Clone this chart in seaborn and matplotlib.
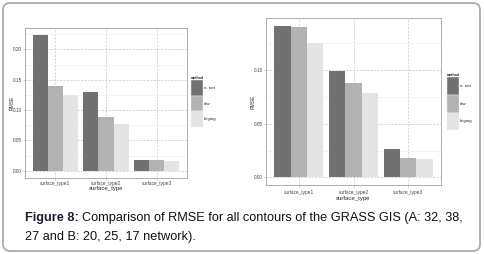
import seaborn as sns
import matplotlib.pyplot as plt
import pandas as pd
from matplotlib.patches import Patch, FancyBboxPatch
from matplotlib.transforms import IdentityTransform

# categories and methods
categories = ["surface_type1", "surface_type2", "surface_type3"]
methods = ["n. net", "idw", "kriging"]
colors = ["#717171", "#b2b2b2", "#e4e4e4"]

# panel A (network 32, 38, 27)
nnet_a = [0.224, 0.129, 0.017]
idw_a = [0.140, 0.089, 0.018]
kriging_a = [0.125, 0.077, 0.016]

# panel B (network 20, 25, 17)
nnet_b = [0.141, 0.099, 0.026]
idw_b = [0.1395, 0.088, 0.018]
kriging_b = [0.125, 0.078, 0.017]

yticks_a = [0.00, 0.05, 0.10, 0.15, 0.20]
yticks_b = [0.00, 0.05, 0.10]

W, H = 484, 254


def make_df(nnet, idw, kriging):
    rows = []
    for m, vals in zip(methods, [nnet, idw, kriging]):
        for c, v in zip(categories, vals):
            rows.append({"surface_type": c, "method": m, "RMSE": v})
    return pd.DataFrame(rows)


def px_rect(left, top, right, bottom):
    return [left / W, 1 - bottom / H, (right - left) / W, (bottom - top) / H]


sns.set_theme(style="white")
plt.rcParams["font.family"] = ["Liberation Sans Narrow", "Liberation Sans", "DejaVu Sans"]

fig = plt.figure(figsize=(W / 100, H / 100), dpi=100)


def draw_panel(rect, df, yticks, ylim, xtick_pad, leg_xy, key_h, xlab_y):
    ax = fig.add_axes(rect)
    sns.barplot(data=df, x="surface_type", y="RMSE", hue="method",
                order=categories, hue_order=methods, palette=colors,
                width=0.9, saturation=1, errorbar=None, legend=False,
                linewidth=0, ax=ax)
    ax.set_xlim(-0.6, 2.6)
    ax.set_ylim(*ylim)
    ax.set_yticks(yticks)
    ax.set_yticklabels(["{:.2f}".format(t) for t in yticks])
    minor = [t + 0.025 for t in yticks if t + 0.025 < ylim[1]]
    ax.set_yticks(minor, minor=True)

    # grid
    ax.set_axisbelow(True)
    ax.grid(which="minor", axis="y", color="#eeeeee", lw=0.5)
    ax.grid(which="major", axis="both", color="#c4c4c4", lw=0.5, ls=(0, (3, 2)))

    for s in ax.spines.values():
        s.set_color("#a0a0a0")
        s.set_linewidth(0.6)

    ax.tick_params(axis="both", which="major", labelsize=3.4, colors="#a0a0a0",
                   labelcolor="#444444", length=1.5, width=0.4, pad=0.6,
                   bottom=True, left=True)
    ax.tick_params(axis="x", pad=xtick_pad)
    ax.tick_params(which="minor", length=0)

    ax.set_ylabel("RMSE", fontsize=3.6, color="#333333")
    ax.yaxis.set_label_coords(-0.062, 0.5)
    ax.set_xlabel("surface_type", fontsize=4.3, color="#222222")
    ax.xaxis.set_label_coords(0.5, xlab_y)

    # legend (keys stacked without gaps)
    handles = [Patch(facecolor=c, edgecolor="#f4f4f4", lw=0.3) for c in colors]
    leg = ax.legend(handles, methods, title="method", loc="upper left",
                    bbox_to_anchor=(leg_xy[0] / W, 1 - leg_xy[1] / H),
                    bbox_transform=fig.transFigure, frameon=False,
                    fontsize=3.2, title_fontsize=2.6, handlelength=2.7,
                    handleheight=key_h, labelspacing=0, handletextpad=0.25,
                    borderpad=0, borderaxespad=0)
    leg._legend_box.align = "left"
    leg.get_title().set_fontweight("bold")
    return ax


ax1 = draw_panel(px_rect(25, 28, 187, 177.5), make_df(nnet_a, idw_a, kriging_a),
                 yticks_a, (-0.0112, 0.2352), 1.0, (191, 76), 5.05, -0.055)
ax2 = draw_panel(px_rect(266, 18, 441, 185), make_df(nnet_b, idw_b, kriging_b),
                 yticks_b, (-0.007, 0.148), 2.2, (447, 73), 5.78, -0.066)

# outer rounded frame
frame = FancyBboxPatch((3, 3), 477, 248, boxstyle="round,pad=0,rounding_size=7",
                       transform=IdentityTransform(), fc="none", ec="#b0b0b0", lw=1.4)
fig.add_artist(frame)

# caption
cap_size = 9.2
cap_font = ["Liberation Sans", "DejaVu Sans"]
bold = fig.text(25 / W, 1 - 218 / H, "Figure 8:", fontsize=cap_size, fontweight="bold",
                family=cap_font, color="#1c1c2c", va="center")
fig.canvas.draw()
bb = bold.get_window_extent(renderer=fig.canvas.get_renderer())
fig.text(bb.x1 / W + 3 / W, 1 - 218 / H,
         "Comparison of RMSE for all contours of the GRASS GIS (A: 32, 38,",
         fontsize=cap_size, family=cap_font, color="#111111", va="center")
fig.text(25 / W, 1 - 237 / H, "27 and B: 20, 25, 17 network).", fontsize=cap_size,
         family=cap_font, color="#111111", va="center")

fig.savefig("out.png", dpi=100)
